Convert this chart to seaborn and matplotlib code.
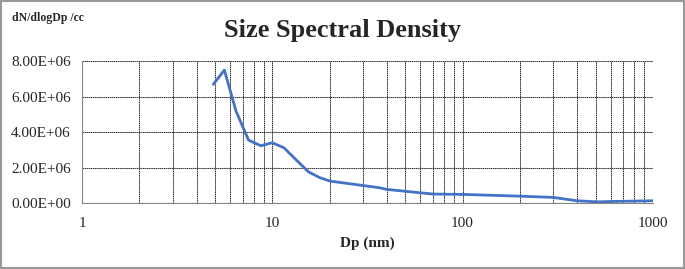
import numpy as np
import pandas as pd
import matplotlib.pyplot as plt
import seaborn as sns
from matplotlib.ticker import FixedLocator, FuncFormatter, LogLocator, NullFormatter

# values
dp_nm = [4.9, 5.6, 6.45, 7.5, 8.7, 10.0, 11.5, 13.4, 15.5, 17.8, 20.1, 29.0,
         36.8, 40.0, 60.0, 70.0, 100.0, 200.0, 300.0, 400.0, 510.0, 600.0, 1000.0]
dndlogdp = [6.69e6, 7.49e6, 5.18e6, 3.55e6, 3.23e6, 3.40e6, 3.12e6, 2.42e6,
            1.76e6, 1.43e6, 1.24e6, 1.01e6, 0.86e6, 0.77e6, 0.58e6, 0.51e6,
            0.49e6, 0.39e6, 0.32e6, 0.13e6, 0.07e6, 0.09e6, 0.13e6]
x_ticks = [1, 10, 100, 1000]
y_ticks = [0, 2e6, 4e6, 6e6, 8e6]

sns.set_style("white")
plt.rcParams["font.family"] = ["Liberation Serif", "DejaVu Serif"]

df = pd.DataFrame({"Dp": dp_nm, "N": dndlogdp})

fig = plt.figure(figsize=(6.85, 2.69), dpi=100)
ax = fig.add_axes([0.1197, 0.245, 0.8333, 0.528])

sns.lineplot(data=df, x="Dp", y="N", ax=ax, color="#4472C4", linewidth=2.0)

ax.set_xscale("log")
ax.set_xlim(1, 1000)
ax.set_ylim(0, 8e6)
ax.xaxis.set_major_locator(FixedLocator(x_ticks))
ax.xaxis.set_major_formatter(FuncFormatter(lambda v, p: f"{v:g}"))
ax.xaxis.set_minor_locator(LogLocator(base=10, subs=np.arange(2, 10)))
ax.xaxis.set_minor_formatter(NullFormatter())
ax.set_yticks(y_ticks)
ax.yaxis.set_major_formatter(FuncFormatter(lambda v, p: f"{v:.2E}"))

ax.grid(True, which="both", axis="x", color="#3a3a3a", linewidth=0.75, linestyle=(0, (1.5, 0.5)))
ax.grid(True, which="major", axis="y", color="#3a3a3a", linewidth=0.75, linestyle=(0, (1.5, 0.5)))
ax.set_axisbelow(True)

ax.tick_params(axis="both", which="major", direction="out", length=4, width=0.7,
               color="#888888", labelsize=11, pad=4)
ax.tick_params(axis="x", which="minor", direction="out", length=3, width=0.7,
               color="#888888")
ax.tick_params(axis="x", which="major", pad=6)
for s in ["top", "right"]:
    ax.spines[s].set_visible(False)
for s in ["left", "bottom"]:
    ax.spines[s].set_color("#888888")
    ax.spines[s].set_linewidth(0.8)

ax.set_xlabel("Dp (nm)", fontsize=11, fontweight="bold", labelpad=5)
ax.set_ylabel("")
fig.text(0.5, 0.885, "Size Spectral Density", ha="center", va="center",
         fontsize=19, fontweight="bold")
fig.text(0.017, 0.932, "dN/dlogDp /cc", ha="left", va="center",
         fontsize=8.5, fontweight="bold")

# grey frame round the whole picture
fig.patches.append(plt.Rectangle((0.001, 0.002), 0.997, 0.995, transform=fig.transFigure,
                                 fill=False, edgecolor="#999999", linewidth=1.5))

fig.savefig("out.png", dpi=100)
